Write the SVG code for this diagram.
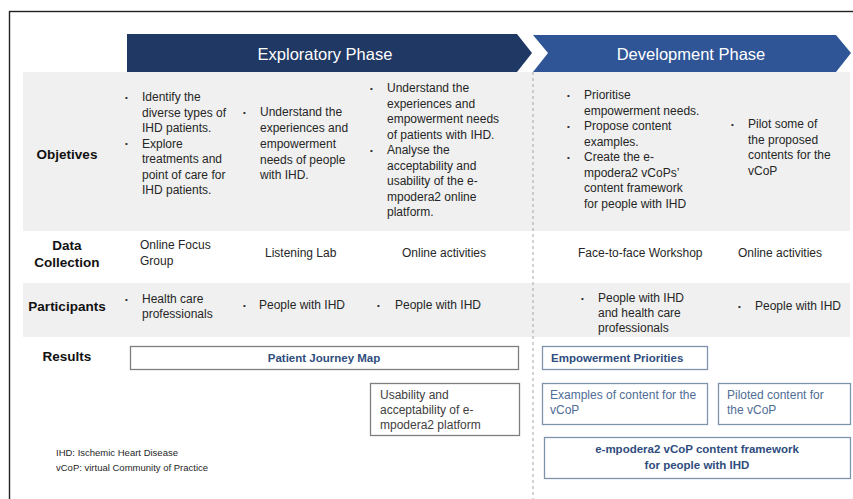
<svg xmlns="http://www.w3.org/2000/svg" width="853" height="499" viewBox="0 0 853 499">
<style>
text{font-family:"Liberation Sans",Arial,sans-serif;}
.b{font-size:12px;fill:#262626;}
.lbl{font-size:13.5px;font-weight:bold;fill:#111;text-anchor:middle;}
.dot{font-size:8px;fill:#262626;}
.hdr{font-size:16.5px;fill:#fff;text-anchor:middle;}
.box{fill:#fff;stroke-width:1.3;}
.bx1{stroke:#7f7f7f;}
.bx2{stroke:#7f93ad;}
.t1{font-size:12px;fill:#404040;}
.t2{font-size:12px;fill:#4f6d96;}
.tb{font-size:11.5px;font-weight:bold;fill:#2f4d7e;}
.fn{font-size:9.5px;fill:#262626;}
</style>
<rect x="0" y="0" width="853" height="499" fill="#fff"/>
<rect x="9.5" y="11.5" width="860" height="500" fill="none" stroke="#222" stroke-width="1.4"/>
<g id="bands">
<rect x="23" y="72" width="827" height="159" fill="#f0f0f0"/>
<rect x="23" y="283" width="827" height="54" fill="#f0f0f0"/>
</g>
<g id="exploratory-phase">
<polygon points="127,34 517,34 532,53 517,72 127,72" fill="#1f3864"/>
<text class="hdr" x="325" y="60">Exploratory Phase</text>
</g>
<g id="development-phase">
<polygon points="533,35 836,35 851,53 836,72 533,72 548,53" fill="#2f5597"/>
<text class="hdr" x="691" y="60">Development Phase</text>
</g>
<g id="divider">
<line x1="533" y1="72" x2="533" y2="499" stroke="#a6a6a6" stroke-width="1" stroke-dasharray="3,3"/>
</g>
<g id="row-objectives">
<text class="lbl" x="67" y="159">Objetives</text>
<text class="dot" x="125" y="100">•</text>
<text class="dot" x="125" y="146">•</text>
<text class="b" x="142" y="101">Identify the</text>
<text class="b" x="142" y="116.5">diverse types of</text>
<text class="b" x="142" y="132">IHD patients.</text>
<text class="b" x="142" y="147.5">Explore</text>
<text class="b" x="142" y="163">treatments and</text>
<text class="b" x="142" y="178.5">point of care for</text>
<text class="b" x="142" y="194">IHD patients.</text>
<text class="dot" x="243" y="115">•</text>
<text class="b" x="260" y="116">Understand the</text>
<text class="b" x="260" y="132">experiences and</text>
<text class="b" x="260" y="148">empowerment</text>
<text class="b" x="260" y="164">needs of people</text>
<text class="b" x="260" y="179">with IHD.</text>
<text class="dot" x="370" y="91">•</text>
<text class="dot" x="370" y="153">•</text>
<text class="b" x="387" y="92">Understand the</text>
<text class="b" x="387" y="107.5">experiences and</text>
<text class="b" x="387" y="123">empowerment needs</text>
<text class="b" x="387" y="138.5">of patients with IHD.</text>
<text class="b" x="387" y="154">Analyse the</text>
<text class="b" x="387" y="169.5">acceptability and</text>
<text class="b" x="387" y="185">usability of the e-</text>
<text class="b" x="387" y="200.5">mpodera2 online</text>
<text class="b" x="387" y="216">platform.</text>
<text class="dot" x="567" y="98">•</text>
<text class="dot" x="567" y="129">•</text>
<text class="dot" x="567" y="160">•</text>
<text class="b" x="584" y="99">Prioritise</text>
<text class="b" x="584" y="114.5">empowerment needs.</text>
<text class="b" x="584" y="130">Propose content</text>
<text class="b" x="584" y="145.5">examples.</text>
<text class="b" x="584" y="161">Create the e-</text>
<text class="b" x="584" y="176.5">mpodera2 vCoPs’</text>
<text class="b" x="584" y="192">content framework</text>
<text class="b" x="584" y="207.5">for people with IHD</text>
<text class="dot" x="731" y="127">•</text>
<text class="b" x="748" y="128">Pilot some of</text>
<text class="b" x="748" y="143.5">the proposed</text>
<text class="b" x="748" y="159">contents for the</text>
<text class="b" x="748" y="174.5">vCoP</text>
</g>
<g id="row-data-collection">
<text class="lbl" x="67" y="250">Data</text>
<text class="lbl" x="67" y="267">Collection</text>
<text class="b" x="140" y="249">Online Focus</text>
<text class="b" x="140" y="265">Group</text>
<text class="b" x="265" y="257">Listening Lab</text>
<text class="b" x="402" y="257">Online activities</text>
<text class="b" x="578" y="257">Face-to-face Workshop</text>
<text class="b" x="738" y="257">Online activities</text>
</g>
<g id="row-participants">
<text class="lbl" x="67" y="311">Participants</text>
<text class="dot" x="125" y="302">•</text>
<text class="b" x="142" y="303">Health care</text>
<text class="b" x="142" y="318">professionals</text>
<text class="dot" x="243" y="308">•</text>
<text class="b" x="259" y="309">People with IHD</text>
<text class="dot" x="377" y="308">•</text>
<text class="b" x="395" y="309">People with IHD</text>
<text class="dot" x="581" y="301">•</text>
<text class="b" x="598" y="302">People with IHD</text>
<text class="b" x="598" y="317">and health care</text>
<text class="b" x="598" y="332">professionals</text>
<text class="dot" x="738" y="309">•</text>
<text class="b" x="755" y="310">People with IHD</text>
</g>
<g id="row-results">
<text class="lbl" x="67" y="361">Results</text>
</g>
<g id="patient-journey-map">
<rect class="box bx1" x="130.5" y="346.5" width="388" height="23"/>
<text class="tb" x="324" y="362" text-anchor="middle">Patient Journey Map</text>
</g>
<g id="empowerment-priorities">
<rect class="box bx2" x="542.5" y="346.5" width="165" height="23"/>
<text class="tb" x="551" y="362" fill="#3a5d90">Empowerment Priorities</text>
</g>
<g id="usability">
<rect class="box bx1" x="370.5" y="383.5" width="149" height="52"/>
<text class="t1" x="380" y="399">Usability and</text>
<text class="t1" x="380" y="414">acceptability of e-</text>
<text class="t1" x="380" y="429">mpodera2 platform</text>
</g>
<g id="examples-content">
<rect class="box bx2" x="542.5" y="383.5" width="165" height="41"/>
<text class="t2" x="550" y="399">Examples of content for the</text>
<text class="t2" x="550" y="414">vCoP</text>
</g>
<g id="piloted-content">
<rect class="box bx2" x="718.5" y="383.5" width="132" height="41"/>
<text class="t2" x="727" y="399">Piloted content for</text>
<text class="t2" x="727" y="414">the vCoP</text>
</g>
<g id="content-framework">
<rect class="box bx2" x="544.5" y="437.5" width="306" height="41"/>
<text class="tb" x="697" y="453" text-anchor="middle" fill="#3a5d90">e-mpodera2 vCoP content framework</text>
<text class="tb" x="697" y="469" text-anchor="middle" fill="#3a5d90">for people with IHD</text>
</g>
<g id="footnote">
<text class="fn" x="56" y="456">IHD: Ischemic Heart Disease</text>
<text class="fn" x="56" y="471">vCoP: virtual Community of Practice</text>
</g>
</svg>
